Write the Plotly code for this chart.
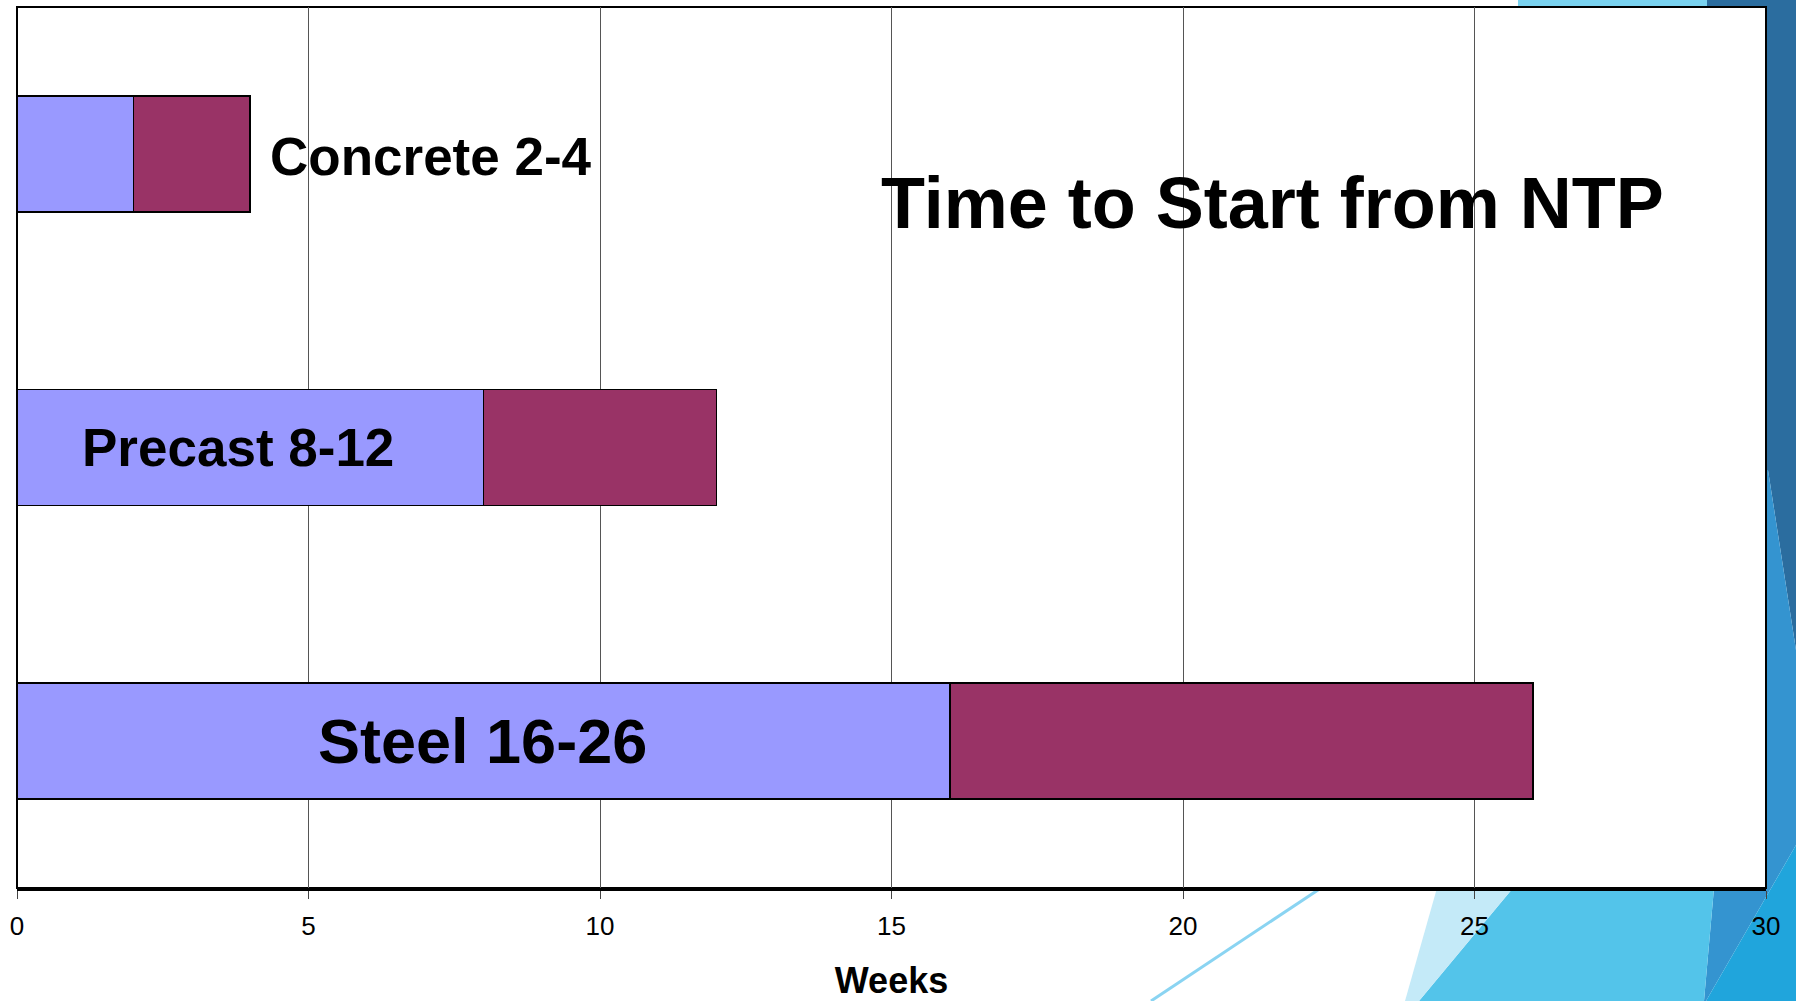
import plotly.graph_objects as go

# ---- data ----
materials = ["Concrete", "Precast", "Steel"]
start_weeks = [2, 8, 16]          # blue segment: weeks until earliest start
end_weeks = [4, 12, 26]           # bar end: latest start
extra_weeks = [e - s for s, e in zip(start_weeks, end_weeks)]
labels = ["Concrete 2-4", "Precast 8-12", "Steel 16-26"]
x_ticks = [0, 5, 10, 15, 20, 25, 30]

FONT = "Arial, Liberation Sans, sans-serif"
BLUE = "#9999FF"
MAROON = "#993366"

# plot-area geometry (pixels) used for the decorative slide background
L, T, R, B = 17, 7, 1766, 888
W, H = 1796, 1001


def P(x, y):
    return (x - L) / (R - L), (B - y) / (B - T)


def poly(points, color):
    pts = [P(x, y) for x, y in points]
    path = "M " + " L ".join(f"{a:.5f},{b:.5f}" for a, b in pts) + " Z"
    return dict(type="path", xref="paper", yref="paper", path=path,
                fillcolor=color, line=dict(width=0), layer="below")


fig = go.Figure()
fig.add_trace(go.Bar(
    y=materials, x=start_weeks, orientation="h", name="Earliest",
    marker=dict(color=BLUE, line=dict(color="black", width=1.5)),
    hoverinfo="x+y",
))
fig.add_trace(go.Bar(
    y=materials, x=extra_weeks, orientation="h", name="Range",
    marker=dict(color=MAROON, line=dict(color="black", width=1.5)),
    hoverinfo="x+y",
))

# bar labels
label_sizes = [53, 53, 63]
annotations = []
for i, (m, s, e, lab) in enumerate(zip(materials, start_weeks, end_weeks, labels)):
    if i == 0:
        annotations.append(dict(x=e, y=m, xref="x", yref="y", text=f"<b>{lab}</b>",
                                showarrow=False, xanchor="left", yanchor="middle",
                                xshift=18, yshift=-3,
                                font=dict(family=FONT, size=label_sizes[i], color="black")))
    else:
        annotations.append(dict(x=s / 2, y=m, xref="x", yref="y", text=f"<b>{lab}</b>",
                                showarrow=False, xanchor="center", yanchor="middle",
                                xshift=-12 if i == 1 else -1,
                                font=dict(family=FONT, size=label_sizes[i], color="black")))

tx, ty = P(1272, 203)
annotations.append(dict(x=tx, y=ty, xref="paper", yref="paper",
                        text="<b>Time to Start from NTP</b>", showarrow=False,
                        xanchor="center", yanchor="middle",
                        font=dict(family=FONT, size=72, color="black")))

shapes = [
    poly([(1518, 0), (1707, 0), (1707, 7), (1518, 7)], "#7AD3F0"),
    poly([(1707, 0), (1796, 0), (1796, 650), (1768, 470), (1766, 470), (1766, 7), (1707, 7)], "#2B6D9F"),
    poly([(1766, 470), (1768, 470), (1796, 650), (1796, 845), (1706, 1001), (1704, 1001),
          (1714, 888), (1766, 888)], "#3494D0"),
    poly([(1796, 845), (1796, 1001), (1706, 1001)], "#20A5DC"),
    poly([(1513, 888), (1714, 888), (1704, 1001), (1419, 1001)], "#53C4EA"),
    poly([(1437, 888), (1513, 888), (1419, 1001), (1405, 1001)], "#C4EAF8"),
]
x0, y0 = P(1321, 888)
x1, y1 = P(1151, 1001)
shapes.append(dict(type="line", xref="paper", yref="paper", x0=x0, y0=y0, x1=x1, y1=y1,
                   line=dict(color="#8AD4F2", width=3), layer="below"))
shapes.append(dict(type="rect", xref="paper", yref="paper", x0=0, y0=0, x1=1, y1=1,
                   fillcolor="white", line=dict(color="black", width=2), layer="below"))

fig.update_layout(
    width=W, height=H, autosize=False,
    barmode="stack", bargap=0.605,
    showlegend=False,
    paper_bgcolor="white", plot_bgcolor="white",
    margin=dict(l=L, r=W - R, t=T, b=H - B, pad=0),
    font=dict(family=FONT, color="black"),
    annotations=annotations,
    shapes=shapes,
    xaxis=dict(
        range=[0, 30], tickmode="array", tickvals=x_ticks,
        ticktext=[str(v) for v in x_ticks],
        showgrid=True, gridcolor="#555555", gridwidth=1, zeroline=False,
        showline=True, linecolor="black", linewidth=3,
        ticks="outside", ticklen=8, tickcolor="#444444", tickwidth=1,
        tickfont=dict(family=FONT, size=26, color="black"),
        ticklabelstandoff=5, automargin=False,
        title=dict(text="<b>Weeks</b>", font=dict(family=FONT, size=36, color="black"),
                   standoff=37),
    ),
    yaxis=dict(
        type="category", categoryorder="array", categoryarray=materials,
        range=[2.5, -0.5], showticklabels=False, showgrid=False,
        zeroline=False, ticks="", showline=False, automargin=False,
    ),
)

fig.write_html("out.html")
